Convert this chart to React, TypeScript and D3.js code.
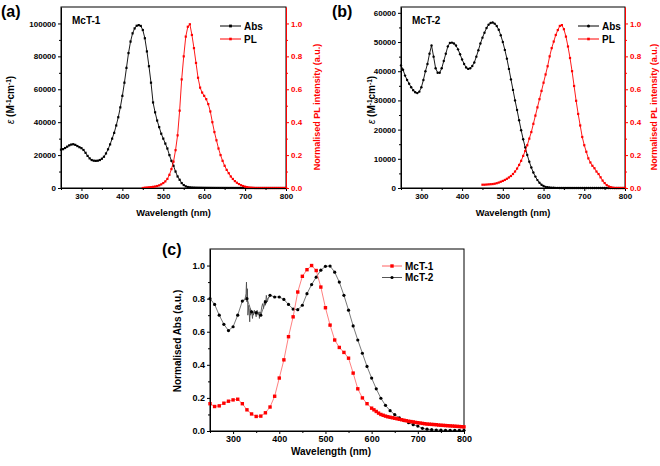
import React, { useEffect, useRef } from "react";
import * as d3 from "d3";

const FONT = "Arial, 'Liberation Sans', Helvetica, sans-serif";
const RED = "#ff0000";

// wavelength grids (nm)
const nmAbs = d3.range(250, 801, 5);
const nmPL = d3.range(450, 801, 5);
const nmMcT1 = [...d3.range(250, 601, 10), ...d3.range(605, 801, 5)];
const nmMcT2 = d3.range(250, 801, 10);

// (a) McT-1 molar absorptivity, 250..800 nm
const absMcT1 = [
  23300, 23600, 24300, 25100, 25900, 26400, 26600, 26200, 25500, 24800,
  24200, 23100, 21400, 19500, 18000, 17000, 16600, 16500, 16600, 17000,
  17800, 19000, 21000, 23500, 26500, 30000, 33500, 38000, 43000, 49000,
  56000, 64000, 73000, 82000, 89000, 94000, 97000, 98600, 99000, 98500,
  96000, 91000, 83000, 74000, 64000, 52000, 46000, 41000, 37000, 33000,
  30000, 27000, 24000, 20000, 16500, 13500, 10000, 7000, 5000, 3000,
  1800, 1000, 600, 400, 300, 250, 200, 180, 160, 140,
  120, 110, 100, 90, 80, 70, 60, 60, 50, 50,
  40, 40, 30, 30, 30, 20, 20, 20, 20, 10,
  10, 0, 0, 0, 0, 0, 0, 0, 0, 0,
  0, 0, 0, 0, 0, 0, 0, 0, 0, 0, 0,
];
// (a) McT-1 normalised PL, 450..800 nm
const plMcT1 = [
  0.0, 0.002, 0.003, 0.004, 0.005, 0.007, 0.009, 0.012, 0.016, 0.022,
  0.03, 0.04, 0.055, 0.08, 0.115, 0.16, 0.23, 0.32, 0.47, 0.66,
  0.8, 0.92, 0.98, 0.995, 0.93, 0.85, 0.76, 0.67, 0.61, 0.58,
  0.56, 0.54, 0.51, 0.465, 0.4, 0.34, 0.29, 0.24, 0.2, 0.165,
  0.135, 0.11, 0.09, 0.07, 0.055, 0.042, 0.032, 0.024, 0.017, 0.012,
  0.008, 0.005, 0.003, 0.002, 0.001, 0, 0, 0, 0, 0,
  0, 0, 0, 0, 0, 0, 0, 0, 0, 0, 0,
];
// (b) McT-2 molar absorptivity, 250..800 nm
const absMcT2 = [
  42000, 40500, 38500, 37000, 35700, 34500, 33500, 32800, 32500, 33000,
  34500, 37000, 40000, 42500, 46000, 48800, 45000, 41000, 39500, 39500,
  41000, 43500, 46000, 48500, 49700, 49800, 49500, 48800, 47500, 45800,
  44000, 42500, 41300, 40800, 41000, 41800, 43000, 45000, 47200, 49500,
  51500, 53200, 54800, 55900, 56500, 56700, 56300, 55500, 54200, 52300,
  50000, 47300, 44300, 40800, 37200, 33600, 30000, 26700, 23200, 19800,
  16700, 13900, 11300, 9000, 7000, 5300, 3900, 2700, 1800, 1100,
  700, 400, 250, 150, 100, 60, 40, 30, 20, 10,
  0, 0, 0, 0, 0, 0, 0, 0, 0, 0,
  0, 0, 0, 0, 0, 0, 0, 0, 0, 0,
  0, 0, 0, 0, 0, 0, 0, 0, 0, 0, 0,
];
// (b) McT-2 normalised PL, 450..800 nm
const plMcT2 = [
  0.02, 0.02, 0.021, 0.022, 0.023, 0.024, 0.026, 0.029, 0.033, 0.038,
  0.043, 0.049, 0.056, 0.064, 0.073, 0.085, 0.1, 0.118, 0.14, 0.165,
  0.195, 0.225, 0.26, 0.3, 0.34, 0.39, 0.44, 0.49, 0.54, 0.59,
  0.64, 0.69, 0.74, 0.8, 0.85, 0.89, 0.93, 0.96, 0.985, 0.99,
  0.965, 0.92, 0.86, 0.79, 0.71, 0.62, 0.53, 0.45, 0.38, 0.31,
  0.26, 0.22, 0.18, 0.155, 0.135, 0.12, 0.1, 0.085, 0.065, 0.045,
  0.03, 0.018, 0.01, 0.005, 0.002, 0, 0, 0, 0, 0, 0,
];
// (c) normalised absorption
const normMcT1 = [
  0.165, 0.148, 0.152, 0.168, 0.18, 0.188, 0.192, 0.165, 0.128, 0.103,
  0.088, 0.09, 0.11, 0.145, 0.21, 0.32, 0.43, 0.57, 0.69, 0.84,
  0.935, 0.975, 1.0, 0.97, 0.87, 0.745, 0.64, 0.55, 0.505, 0.475,
  0.44, 0.35, 0.255, 0.2, 0.165, 0.138,
  0.128, 0.118, 0.108, 0.1, 0.095, 0.09, 0.086, 0.083, 0.08, 0.077,
  0.074, 0.071, 0.068, 0.065, 0.062, 0.059, 0.057, 0.055, 0.052, 0.05,
  0.048, 0.046, 0.044, 0.042, 0.041, 0.04, 0.039, 0.038, 0.036, 0.035,
  0.034, 0.033, 0.032, 0.031, 0.03, 0.029, 0.028, 0.027, 0.026, 0.025,
];
const normMcT2 = [
  0.8, 0.765, 0.7, 0.645, 0.607, 0.63, 0.7, 0.785, 0.8, 0.72,
  0.715, 0.7, 0.78, 0.82, 0.81, 0.81, 0.795, 0.765, 0.737, 0.733,
  0.76, 0.83, 0.885, 0.93, 0.972, 0.995, 0.997, 0.96, 0.9, 0.82,
  0.73, 0.635, 0.55, 0.47, 0.39, 0.32, 0.255, 0.198, 0.155, 0.123,
  0.099, 0.079, 0.063, 0.05, 0.038, 0.03, 0.016, 0.011, 0.008, 0.006,
  0.005, 0.004, 0.004, 0.004, 0.004, 0.004,
];
// noisy stretch of the McT-2 trace (line only)
const noiseNm = [
  322, 326, 328, 329, 330, 331, 332, 334, 336, 337, 338, 340, 342, 343, 344, 346, 348,
  350, 352, 354, 356, 357, 358, 360, 362, 364, 366, 368, 370, 372, 374, 376, 378,
];
const noiseVal = [
  0.79, 0.8, 0.83, 0.9, 0.78, 0.86, 0.7, 0.76, 0.66, 0.74, 0.7, 0.73, 0.68, 0.72, 0.7, 0.73, 0.71,
  0.69, 0.73, 0.7, 0.72, 0.68, 0.72, 0.71, 0.75, 0.77, 0.74, 0.79, 0.76, 0.82, 0.78, 0.8, 0.81,
];

const xMajor = [300, 400, 500, 600, 700, 800];
const xMinor = [250, 350, 450, 550, 650, 750];

type Sel = d3.Selection<any, any, any, any>;

function addAxis(parent: Sel, kind: string, scale: any, pos: number, major: number[], minor: number[], fmt: any, color: string, fs: number) {
  const make = kind === "bottom" ? d3.axisBottom : kind === "left" ? d3.axisLeft : d3.axisRight;
  const tr = kind === "bottom" ? `translate(0,${pos})` : `translate(${pos},0)`;
  const gMin = parent.append("g").attr("transform", tr)
    .call(make(scale).tickValues(minor).tickSize(2).tickFormat(() => "").tickSizeOuter(0));
  gMin.select(".domain").remove();
  gMin.selectAll(".tick line").attr("stroke", color);
  const gMaj = parent.append("g").attr("transform", tr)
    .call(make(scale).tickValues(major).tickSize(3).tickPadding(2).tickSizeOuter(0).tickFormat(fmt));
  gMaj.attr("font-family", FONT).attr("font-size", fs).attr("font-weight", "bold");
  gMaj.select(".domain").attr("stroke", color);
  gMaj.selectAll(".tick line").attr("stroke", color);
  gMaj.selectAll(".tick text").attr("fill", color);
}

function addSeries(g: Sel, x: any, y: any, nm: number[], vals: number[], color: string, lineColor: string, lw: number, shape: string, size: number) {
  const pts = nm.map((n, i) => [n, vals[i]]).filter((d) => d[1] !== undefined);
  g.append("path")
    .attr("d", d3.line().x((d) => x(d[0])).y((d) => y(d[1]))(pts as any))
    .attr("fill", "none").attr("stroke", lineColor).attr("stroke-width", lw);
  if (shape === "square") {
    g.selectAll(null).data(pts).enter().append("rect")
      .attr("x", (d) => x(d[0]) - size / 2).attr("y", (d) => y(d[1]) - size / 2)
      .attr("width", size).attr("height", size).attr("fill", color);
  } else {
    g.selectAll(null).data(pts).enter().append("circle")
      .attr("cx", (d) => x(d[0])).attr("cy", (d) => y(d[1])).attr("r", size / 2).attr("fill", color);
  }
}

function legendRow(g: Sel, x0: number, x1: number, yl: number, label: string, color: string, lineColor: string, shape: string, size: number, fs: number) {
  g.append("line").attr("x1", x0).attr("x2", x1).attr("y1", yl).attr("y2", yl)
    .attr("stroke", lineColor).attr("stroke-width", 1);
  const cx = (x0 + x1) / 2;
  if (shape === "square") {
    g.append("rect").attr("x", cx - size / 2).attr("y", yl - size / 2).attr("width", size).attr("height", size).attr("fill", color);
  } else {
    g.append("circle").attr("cx", cx).attr("cy", yl).attr("r", size / 2).attr("fill", color);
  }
  g.append("text").attr("x", x1 + 3).attr("y", yl + fs * 0.36).attr("font-size", fs)
    .attr("font-weight", "bold").attr("font-family", FONT).attr("fill", "#000").text(label);
}

function text(g: Sel, x: number, y: number, s: string, fs: number, opts: any = {}) {
  const t = g.append("text").attr("font-family", FONT).attr("font-weight", "bold").attr("font-size", fs)
    .attr("fill", opts.color || "#000").attr("text-anchor", opts.anchor || "start");
  if (opts.rotate) t.attr("transform", `translate(${x},${y}) rotate(-90)`);
  else t.attr("x", x).attr("y", y);
  t.text(s);
  return t;
}

function epsLabel(g: Sel, x: number, y: number, fs: number) {
  const t = g.append("text").attr("font-family", FONT).attr("font-weight", "bold").attr("font-size", fs)
    .attr("text-anchor", "middle").attr("transform", `translate(${x},${y}) rotate(-90)`);
  t.append("tspan").attr("font-style", "italic").attr("font-weight", "normal").text("ε");
  t.append("tspan").text(" (M");
  t.append("tspan").attr("baseline-shift", "super").attr("font-size", fs * 0.65).text("-1");
  t.append("tspan").text("cm");
  t.append("tspan").attr("baseline-shift", "super").attr("font-size", fs * 0.65).text("-1");
  t.append("tspan").text(")");
}

function absPlPanel(svg: Sel, o: any) {
  const g = svg.append("g");
  const x = d3.scaleLinear().domain([250, 800]).range([o.left, o.right]);
  const yL = d3.scaleLinear().domain([0, o.yMax]).range([o.bottom, o.top]);
  const yR = d3.scaleLinear().domain([0, 1.1]).range([o.bottom, o.top]);

  g.append("rect").attr("x", o.left).attr("y", o.top).attr("width", o.right - o.left)
    .attr("height", o.bottom - o.top).attr("fill", "none").attr("stroke", "#000").attr("stroke-width", 1);

  addSeries(g, x, yL, nmAbs, o.abs, "#000", "#000", 0.9, o.absShape, o.absSize);
  addSeries(g, x, yR, nmPL, o.pl, RED, RED, 0.9, "square", 2.2);

  addAxis(g, "bottom", x, o.bottom, xMajor, xMinor, d3.format("d"), "#000", 8);
  addAxis(g, "left", yL, o.left, o.yMajor, o.yMinor, d3.format("d"), "#000", 8);
  addAxis(g, "right", yR, o.right, [0, 0.2, 0.4, 0.6, 0.8, 1.0], [0.1, 0.3, 0.5, 0.7, 0.9], d3.format(".1f"), RED, 8);

  text(g, (o.left + o.right) / 2, 216, "Wavelength (nm)", 9.3, { anchor: "middle" });
  epsLabel(g, o.epsX, 100, 10);
  text(g, o.plX, 107, "Normalised PL intensity (a.u.)", 9, { anchor: "middle", rotate: true, color: RED });
  text(g, o.left + 11, 24, o.name, 10);
  text(g, o.letterX, 17, o.letter, 16);

  legendRow(g, o.legX, o.legX + 21, 26, "Abs", "#000", "#000", o.absShape, o.absSize + 0.6, 10);
  legendRow(g, o.legX, o.legX + 21, 39, "PL", RED, RED, "square", 2.6, 10);
}

function normPanel(svg: Sel) {
  const g = svg.append("g");
  const left = 210, right = 464, top = 249, bottom = 431;
  const x = d3.scaleLinear().domain([250, 800]).range([left, right]);
  const y = d3.scaleLinear().domain([0, 1.1]).range([bottom, top]);

  g.append("rect").attr("x", left).attr("y", top).attr("width", right - left)
    .attr("height", bottom - top).attr("fill", "none").attr("stroke", "#000").attr("stroke-width", 1);

  g.append("path")
    .attr("d", d3.line().x((d: any) => x(d[0])).y((d: any) => y(d[1]))(noiseNm.map((n, i) => [n, noiseVal[i]]) as any))
    .attr("fill", "none").attr("stroke", "#444").attr("stroke-width", 0.8);
  addSeries(g, x, y, nmMcT2, normMcT2, "#000", "#555", 0.8, "circle", 3.2);
  addSeries(g, x, y, nmMcT1, normMcT1, RED, "#ff6060", 0.8, "square", 3.4);

  addAxis(g, "bottom", x, bottom, xMajor, xMinor, d3.format("d"), "#000", 9);
  addAxis(g, "left", y, left, [0, 0.2, 0.4, 0.6, 0.8, 1.0], [0.1, 0.3, 0.5, 0.7, 0.9], d3.format(".1f"), "#000", 9);

  text(g, 331, 455, "Wavelength (nm)", 10, { anchor: "middle" });
  text(g, 181, 341, "Normalised Abs (a.u.)", 10, { anchor: "middle", rotate: true });
  text(g, 162, 255, "(c)", 16);

  legendRow(g, 382, 402, 266, "McT-1", RED, "#ff6060", "square", 3.4, 10);
  legendRow(g, 382, 402, 277.5, "McT-2", "#000", "#555", "circle", 3.2, 10);
}

const App = () => {
  const ref = useRef<SVGSVGElement>(null);
  useEffect(() => {
    const svg = d3.select(ref.current);
    svg.selectAll("*").remove();
    absPlPanel(svg, {
      left: 61, right: 286, top: 7, bottom: 188, yMax: 110000,
      abs: absMcT1, pl: plMcT1, absShape: "square", absSize: 2.2,
      yMajor: [0, 20000, 40000, 60000, 80000, 100000],
      yMinor: [10000, 30000, 50000, 70000, 90000],
      epsX: 14, plX: 320, name: "McT-1", letter: "(a)", letterX: 1, legX: 220,
    });
    absPlPanel(svg, {
      left: 401, right: 625, top: 7, bottom: 188, yMax: 62000,
      abs: absMcT2, pl: plMcT2, absShape: "circle", absSize: 2.4,
      yMajor: [0, 10000, 20000, 30000, 40000, 50000, 60000],
      yMinor: [5000, 15000, 25000, 35000, 45000, 55000],
      epsX: 375, plX: 657, name: "McT-2", letter: "(b)", letterX: 332, legX: 578,
    });
    normPanel(svg);
  }, []);
  return (
    <>
      <style>{"body{margin:0}"}</style>
      <svg ref={ref} width={660} height={466} style={{ display: "block", background: "#fff" }} />
    </>
  );
};

export default App;
